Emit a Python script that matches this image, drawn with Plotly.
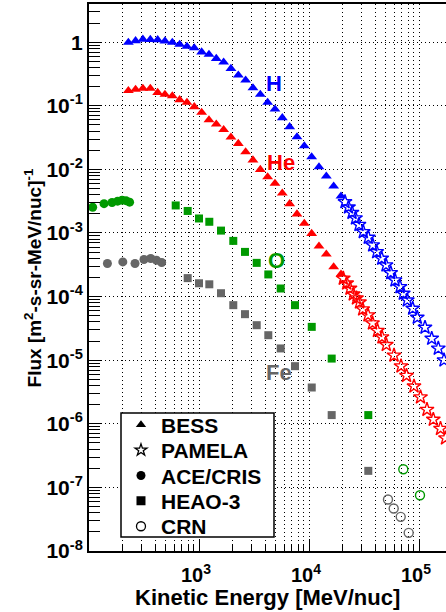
import plotly.graph_objects as go

# ---------------- data (kinetic energy MeV/nuc, flux) ----------------
E_BESS = [228, 265, 309, 361, 421, 490, 572, 667, 777, 906, 1057, 1232, 1436, 1675,
          1952, 2277, 2654, 3094, 3608, 4207, 4905, 5719, 6668, 7775, 9066, 10570,
          12324, 14370, 16755, 19536]
H_BESS = [0.99, 1.05, 1.11, 1.10, 1.09, 1.04, 0.99, 0.92, 0.855, 0.81, 0.70, 0.64,
          0.553, 0.484, 0.385, 0.303, 0.253, 0.191, 0.151, 0.113, 0.0885, 0.0646,
          0.0466, 0.0324, 0.0234, 0.0157, 0.0109, 0.00781, 0.00545, 0.00379]
He_BESS = [0.173, 0.181, 0.187, 0.187, 0.161, 0.151, 0.143, 0.124, 0.113, 0.0962,
           0.0785, 0.060, 0.0514, 0.0421, 0.0321, 0.0255, 0.0188, 0.0140, 0.00995,
           0.00762, 0.0060, 0.00423, 0.00287, 0.00198, 0.00141, 0.00098, 0.00062,
           0.000464, 0.000293, 0.000225]

E_PAM_H = [21250, 22870, 24600, 26470, 28480, 31160, 34600, 37940, 41260, 45800,
           50120, 55290, 60500, 67200, 72000, 78270, 87640, 96500, 113400, 130500,
           149800, 168800]
H_PAM = [3.08e-3, 2.54e-3, 2.09e-3, 1.71e-3, 1.35e-3, 1.04e-3, 8.49e-4, 6.43e-4,
         5.04e-4, 3.97e-4, 3.12e-4, 2.36e-4, 1.81e-4, 1.42e-4, 1.12e-4, 8.77e-5,
         6.50e-5, 4.69e-5, 3.27e-5, 2.19e-5, 1.53e-5, 1.00e-5]
E_PAM_He = [20500, 22010, 23590, 25280, 27030, 28790, 30770, 34390, 37780, 41940,
            46090, 50440, 59250, 68620, 76990, 90060, 103200, 118200, 134900,
            156900, 174200]
He_PAM = [1.93e-4, 1.62e-4, 1.34e-4, 1.09e-4, 9.44e-5, 8.16e-5, 6.34e-5, 5.10e-5,
          3.82e-5, 2.91e-5, 2.30e-5, 1.75e-5, 1.19e-5, 8.05e-6, 5.71e-6, 3.90e-6,
          2.62e-6, 1.67e-6, 1.17e-6, 8.38e-7, 5.94e-7]

E_ACE_O = [108, 137, 162, 182, 200, 217, 234]
O_ACE = [2.54e-3, 2.89e-3, 3.02e-3, 3.16e-3, 3.28e-3, 3.22e-3, 3.05e-3]
E_ACE_Fe = [147, 203, 262, 316, 364, 411, 458]
Fe_ACE = [3.31e-4, 3.51e-4, 3.31e-4, 3.83e-4, 3.97e-4, 3.73e-4, 3.43e-4]

E_HEAO_O = [614, 789, 1000, 1241, 1585, 2050, 2618, 3347, 4266, 5530, 7460, 10590,
            16080, 34600]
O_HEAO = [2.71e-3, 2.22e-3, 1.69e-3, 1.50e-3, 1.09e-3, 7.51e-4, 5.04e-4, 3.39e-4,
          2.23e-4, 1.34e-4, 7.33e-5, 3.34e-5, 1.06e-5, 1.37e-6]
E_HEAO_Fe = [789, 1000, 1241, 1585, 2050, 2618, 3347, 4266, 5530, 7460, 10590,
             16080, 34600]
Fe_HEAO = [1.95e-4, 1.62e-4, 1.56e-4, 1.13e-4, 7.33e-5, 5.29e-5, 3.55e-5, 2.47e-5,
           1.53e-5, 8.05e-6, 3.72e-6, 1.37e-6, 1.82e-7]

E_CRN_O = [72000, 102100]
O_CRN = [1.93e-7, 7.54e-8]
E_CRN_Fe = [52240, 58900, 68200, 80600]
Fe_CRN = [6.46e-8, 4.66e-8, 3.44e-8, 1.93e-8]

X_TICKVALS = [1e3, 1e4, 1e5]
X_TICKTEXT = ["10<sup>3</sup>", "10<sup>4</sup>", "10<sup>5</sup>"]
Y_TICKVALS = [1e-8, 1e-7, 1e-6, 1e-5, 1e-4, 1e-3, 1e-2, 1e-1, 1]
Y_TICKTEXT = ["10<sup>-8</sup>", "10<sup>-7</sup>", "10<sup>-6</sup>", "10<sup>-5</sup>",
              "10<sup>-4</sup>", "10<sup>-3</sup>", "10<sup>-2</sup>", "10<sup>-1</sup>", "1"]
LEGEND_NAMES = ["BESS", "PAMELA", "ACE/CRIS", "HEAO-3", "CRN"]
X_TITLE = "Kinetic Energy [MeV/nuc]"
Y_TITLE = "Flux [m<sup>2</sup>-s-sr-MeV/nuc]<sup>-1</sup>"

BLUE = "#0000ff"
RED = "#ff0000"
GREEN = "#009900"
GRAY = "#666666"

FONT = "Liberation Sans, Arial, sans-serif"

fig = go.Figure()


def add(x, y, symbol, color, size, open_=False):
    marker = dict(symbol=symbol, size=size, color=color)
    if open_:
        marker["line"] = dict(color=color, width=1.4)
    else:
        marker["line"] = dict(width=0)
    fig.add_trace(go.Scatter(x=x, y=y, mode="markers", marker=marker, showlegend=False))


add(E_BESS, H_BESS, "triangle-up", BLUE, 9.5)
add(E_BESS, He_BESS, "triangle-up", RED, 9.5)
add(E_PAM_H, H_PAM, "star-open", BLUE, 10.5, True)
add(E_PAM_He, He_PAM, "star-open", RED, 10.5, True)
add(E_ACE_O, O_ACE, "circle", GREEN, 9)
add(E_ACE_Fe, Fe_ACE, "circle", GRAY, 9)
add(E_HEAO_O, O_HEAO, "square", GREEN, 8)
add(E_HEAO_Fe, Fe_HEAO, "square", GRAY, 8)
add(E_CRN_O, O_CRN, "circle-open", GREEN, 9, True)
add(E_CRN_Fe, Fe_CRN, "circle-open", GRAY, 9, True)

# ---- legend: one single-entry legend per row inside a framed box ----
leg_symbols = ["triangle-up", "star-open", "circle", "square", "circle-open"]
row_px = [425, 450.4, 475.8, 501.2, 526.6]          # row centres (px from top)
plot_top, plot_bottom = 4, 551
plot_h = plot_bottom - plot_top
legend_layouts = {}
for i, (name, sym) in enumerate(zip(LEGEND_NAMES, leg_symbols)):
    mk = dict(symbol=sym, size=9, color="black")
    if sym.endswith("open"):
        mk["line"] = dict(color="black", width=1.3)
    key = "legend" if i == 0 else f"legend{i + 1}"
    fig.add_trace(go.Scatter(x=[None], y=[None], mode="markers", marker=mk, name=name,
                             legend=key))
    legend_layouts[key] = dict(
        x=0.0896, y=(plot_bottom - row_px[i]) / plot_h, xanchor="left", yanchor="middle",
        bgcolor="rgba(0,0,0,0)", borderwidth=0,
        font=dict(size=21, family=FONT, weight="bold", color="black"),
        itemwidth=30)

fig.add_shape(type="rect", xref="paper", yref="paper",
              x0=(121 - 89) / 357, x1=(274 - 89) / 357,
              y0=(plot_bottom - 537) / plot_h, y1=(plot_bottom - 413) / plot_h,
              line=dict(color="black", width=1.5), fillcolor="white", layer="above")

# minor tick positions
x_minor = [m * 10 ** d for d in range(2, 6) for m in range(2, 10)]
y_minor = [m * 10.0 ** d for d in range(-8, 1) for m in range(2, 10)]

grid_dash = "1px,3px"

fig.update_layout(
    width=446, height=612,
    margin=dict(l=89, r=0, t=4, b=61),
    paper_bgcolor="white", plot_bgcolor="white",
    font=dict(family=FONT, size=18, color="black", weight="bold"),
    xaxis=dict(type="log", range=[2, 5.2455],
               tickmode="array", tickvals=X_TICKVALS, ticktext=X_TICKTEXT,
               ticks="inside", ticklen=12, tickwidth=1, tickcolor="black",
               tickfont=dict(size=20, family=FONT, weight="bold"),
               ticklabelstandoff=5, ticklabelshift=-3,
               showgrid=True, gridcolor="black", gridwidth=1, griddash=grid_dash,
               showline=True, linecolor="black", linewidth=2, mirror=True,
               zeroline=False,
               minor=dict(tickmode="array", tickvals=x_minor, ticks="inside", ticklen=6,
                          tickcolor="black", showgrid=True, gridcolor="black",
                          gridwidth=1, griddash=grid_dash)),
    yaxis=dict(type="log", range=[-8, 0.6],
               tickmode="array", tickvals=Y_TICKVALS, ticktext=Y_TICKTEXT,
               ticks="inside", ticklen=12, tickwidth=1, tickcolor="black",
               tickfont=dict(size=21, family=FONT, weight="bold"),
               showgrid=True, gridcolor="black", gridwidth=1, griddash=grid_dash,
               showline=True, linecolor="black", linewidth=2, mirror=False,
               zeroline=False,
               minor=dict(tickmode="array", tickvals=y_minor, ticks="inside", ticklen=11,
                          tickcolor="black", showgrid=False)),
    **legend_layouts,
)

# axis titles
fig.add_annotation(text=X_TITLE, xref="paper", yref="paper", x=0.5, y=-0.0841,
                   xanchor="center", yanchor="middle", showarrow=False,
                   font=dict(size=22, family=FONT, weight="bold", color="black"))
fig.add_annotation(text=Y_TITLE, xref="paper", yref="paper", x=-0.157, y=0.5,
                   xanchor="center", yanchor="middle", showarrow=False, textangle=-90,
                   font=dict(size=19, family=FONT, weight="bold", color="black"))

labels = [("H", 3.682, -0.65, BLUE), ("He", 3.741, -1.887, RED),
          ("O", 3.700, -3.428, GREEN), ("Fe", 3.727, -5.189, GRAY)]
for txt, lx, ly, col in labels:
    fig.add_annotation(x=lx, y=ly, xref="x", yref="y", text=txt, showarrow=False,
                       font=dict(size=22, color=col, family=FONT, weight="bold"),
                       xanchor="center", yanchor="middle")

fig.write_html("out.html")
